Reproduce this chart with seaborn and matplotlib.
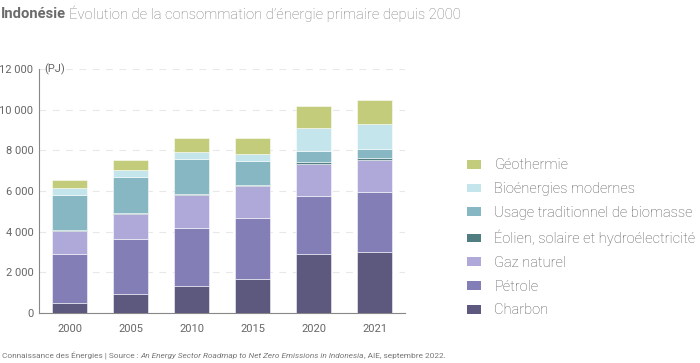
import numpy as np
import pandas as pd
import matplotlib
matplotlib.use("Agg")
import matplotlib.pyplot as plt
import seaborn as sns
from matplotlib.patches import Patch
from matplotlib.ticker import FuncFormatter

# data (PJ)
years = ["2000", "2005", "2010", "2015", "2020", "2021"]
charbon = [490, 920, 1340, 1650, 2880, 3010]
petrole = [2420, 2730, 2830, 3010, 2870, 2960]
gaz = [1130, 1240, 1620, 1600, 1590, 1570]
eolien = [50, 50, 70, 50, 80, 100]
biomasse_trad = [1690, 1770, 1735, 1180, 540, 410]
bio_modernes = [390, 330, 310, 330, 1130, 1245]
geothermie = [380, 470, 690, 770, 1110, 1160]

labels = ["Charbon", "Pétrole", "Gaz naturel", "Éolien, solaire et hydroélectricité",
          "Usage traditionnel de biomasse", "Bioénergies modernes", "Géothermie"]
series = [charbon, petrole, gaz, eolien, biomasse_trad, bio_modernes, geothermie]
colors = ["#5c587e", "#837eb6", "#aea9d8", "#4f7d80", "#87b7c2", "#c4e5eb", "#c2cc7a"]

sns.set_style("white")
plt.rcParams["font.family"] = ["Roboto", "DejaVu Sans"]

fig = plt.figure(figsize=(7, 3.63), dpi=100)
ax = fig.add_axes([0.0557, 0.1377, 0.5229, 0.6723])

bottom = np.zeros(len(years))
for lab, vals, col in zip(labels, series, colors):
    df = pd.DataFrame({"year": years, "value": vals})
    sns.barplot(data=df, x="year", y="value", color=col, bottom=bottom,
                width=0.57, edgecolor=(1, 1, 1, 0.6), linewidth=0.6,
                saturation=1, ax=ax, zorder=3)
    bottom += np.array(vals)

ax.set_xlim(-0.5, 5.5)
ax.set_ylim(0, 12000)
ax.set_yticks(range(0, 12001, 2000))
ax.yaxis.set_major_formatter(FuncFormatter(lambda v, p: f"{int(v):,}".replace(",", " ")))
ax.set_xlabel("")
ax.set_ylabel("")
ax.tick_params(axis="both", length=0, labelsize=8, labelcolor="#666666")
ax.tick_params(axis="x", pad=8)
ax.tick_params(axis="y", pad=4)
ax.yaxis.grid(True, color="#e8e8e8", linestyle=(0, (6, 6)), linewidth=0.8, zorder=0)
for s in ["top", "right"]:
    ax.spines[s].set_visible(False)
for s in ["left", "bottom"]:
    ax.spines[s].set_color("#888888")
    ax.spines[s].set_linewidth(0.8)

ax.text(0.015, 12000, "(PJ)", fontsize=8, color="#666666", va="center",
        transform=ax.get_yaxis_transform())

# legend, top item first
handles = [Patch(facecolor=c, edgecolor="none") for c in colors[::-1]]
leg = fig.legend(handles, labels[::-1], loc="upper left", bbox_to_anchor=(0.649, 0.6),
                 frameon=False, fontsize=10.5, labelcolor="#555555",
                 handlelength=0.95, handleheight=0.55, handletextpad=0.9, labelspacing=0.67)
for t in leg.get_texts():
    t.set_fontweight("light")

# title
t1 = fig.text(0.001, 0.961, "Indonésie", fontsize=10.6, fontweight="bold",
              color="#6b6b6b", va="center")
fig.canvas.draw()
r = fig.canvas.get_renderer()
bb = t1.get_window_extent(r)
fig.text(bb.x1 / 700 + 0.005, 0.961, "Évolution de la consommation d’énergie primaire depuis 2000",
         fontsize=10.6, fontweight="light", color="#7a7a7a", va="center")

# footer
parts = [("Connaissance des Énergies | Source : ", "normal"),
         ("An Energy Sector Roadmap to Net Zero Emissions in Indonesia", "italic"),
         (", AIE, septembre 2022.", "normal")]
x = 0.003
for txt, st in parts:
    t = fig.text(x, 0.019, txt, fontsize=5.95, style=st, color="#777777", va="center")
    fig.canvas.draw()
    x = t.get_window_extent(r).x1 / 700

fig.savefig("out.png", dpi=100)
